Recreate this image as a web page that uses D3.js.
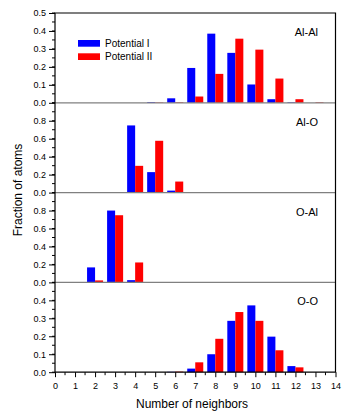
<!DOCTYPE html>
<html>
<head>
<meta charset="utf-8">
<script src="https://cdn.jsdelivr.net/npm/d3@7"></script>
<style>
  body { margin: 0; background: #fff; }
  text { font-family: "Liberation Sans", Arial, sans-serif; fill: #000; }
</style>
</head>
<body>
<div id="chart"></div>
<script>
// number of neighbors 0..14
let neighbors = d3.range(0, 15);
let panelNames = ["Al-Al", "Al-O", "O-Al", "O-O"];
let seriesNames = ["Potential I", "Potential II"];

// fraction of atoms, index = number of neighbors
let alAlPot1 = [0, 0, 0, 0, 0, 0.004, 0.025, 0.194, 0.385, 0.278, 0.102, 0.020, 0.003, 0, 0];
let alAlPot2 = [0, 0, 0, 0, 0, 0.002, 0.003, 0.035, 0.161, 0.357, 0.296, 0.135, 0.020, 0.003, 0];
let alOPot1 = [0, 0, 0, 0.005, 0.748, 0.228, 0.022, 0, 0, 0, 0, 0, 0, 0, 0];
let alOPot2 = [0, 0, 0, 0, 0.298, 0.577, 0.123, 0, 0, 0, 0, 0, 0, 0, 0];
let oAlPot1 = [0, 0.003, 0.167, 0.800, 0.025, 0.003, 0, 0, 0, 0, 0, 0, 0, 0, 0];
let oAlPot2 = [0, 0.003, 0.022, 0.748, 0.222, 0.003, 0, 0, 0, 0, 0, 0, 0, 0, 0];
let oOPot1 = [0, 0, 0, 0, 0, 0, 0.002, 0.020, 0.100, 0.286, 0.372, 0.198, 0.034, 0, 0];
let oOPot2 = [0, 0, 0, 0, 0, 0, 0.003, 0.055, 0.186, 0.335, 0.286, 0.122, 0.027, 0, 0];

// y axis setup per panel
let yMax = [0.5, 1.0, 1.0, 0.5];
let yTicks = [
    [0, 0.1, 0.2, 0.3, 0.4, 0.5],
    [0, 0.2, 0.4, 0.6, 0.8],
    [0, 0.2, 0.4, 0.6, 0.8],
    [0, 0.1, 0.2, 0.3, 0.4]
];
let yMinor = [0.05, 0.1, 0.1, 0.05];

let panelData = [
    [alAlPot1, alAlPot2],
    [alOPot1, alOPot2],
    [oAlPot1, oAlPot2],
    [oOPot1, oOPot2]
];
let colors = ["#0000ff", "#ff0000"];

//canvas and margins
let svgWidth = 345;
let svgHeight = 412;
let margin = { top: 13, left: 55, right: 10 };
let plotRight = 335.5;
let panelH = 89.8;

let svg = d3.select("#chart")
    .append("svg")
    .attr("width", svgWidth)
    .attr("height", svgHeight);

let x = d3.scaleLinear()
    .domain([0, 14])
    .range([margin.left, plotRight]);

let barW = 0.4;

panelData.forEach((series, p) => {
    let top = margin.top + p * panelH;
    let bottom = top + panelH;
    let y = d3.scaleLinear().domain([0, yMax[p]]).range([bottom, top]);

    let g = svg.append("g");

    // bars
    series.forEach((vals, s) => {
        g.selectAll(null)
            .data(neighbors.filter(n => vals[n] > 0))
            .join("rect")
            .attr("x", n => s === 0 ? x(n - barW) : x(n))
            .attr("width", x(barW) - x(0))
            .attr("y", n => y(vals[n]))
            .attr("height", n => y(0) - y(vals[n]))
            .attr("fill", colors[s]);
    });

    // minor ticks
    let minors = d3.range(0, yMax[p] + 1e-9, yMinor[p]);
    g.selectAll(null)
        .data(minors)
        .join("line")
        .attr("x1", margin.left - 3)
        .attr("x2", margin.left)
        .attr("y1", d => y(d))
        .attr("y2", d => y(d))
        .attr("stroke", "#000");

    // left axis
    let leftAxis = d3.axisLeft(y)
        .tickValues(yTicks[p])
        .tickFormat(d3.format(".1f"))
        .tickSize(6)
        .tickPadding(3);
    let ax = g.append("g")
        .attr("transform", `translate(${margin.left}, 0)`)
        .call(leftAxis);
    ax.select(".domain").remove();
    ax.selectAll("text").style("font-size", "9px").attr("font-family", "Liberation Sans, Arial, sans-serif");

    // zero line (gray panel separator)
    if (p < 3) {
        g.append("line")
            .attr("x1", margin.left)
            .attr("x2", plotRight)
            .attr("y1", y(0))
            .attr("y2", y(0))
            .attr("stroke", "#808080")
            .attr("stroke-width", 1.3);
    }

    // panel label
    g.append("text")
        .attr("x", 318)
        .attr("y", top + 23)
        .attr("text-anchor", "end")
        .style("font-size", "11px")
        .text(panelNames[p]);
});

let plotBottom = margin.top + 4 * panelH;

// bottom axis with minor ticks
let bottomAxis = d3.axisBottom(x)
    .tickValues(neighbors)
    .tickFormat(d3.format("d"))
    .tickSize(5)
    .tickPadding(5);
let bx = svg.append("g")
    .attr("transform", `translate(0, ${plotBottom})`)
    .call(bottomAxis);
bx.select(".domain").remove();
bx.selectAll("text").style("font-size", "9px").attr("font-family", "Liberation Sans, Arial, sans-serif");

svg.selectAll(null)
    .data(d3.range(0.5, 14, 1))
    .join("line")
    .attr("x1", d => x(d))
    .attr("x2", d => x(d))
    .attr("y1", plotBottom)
    .attr("y2", plotBottom + 3)
    .attr("stroke", "#000");

// frame
svg.append("path")
    .attr("d", `M${margin.left},${plotBottom}V${margin.top}H${plotRight}V${plotBottom}Z`)
    .attr("fill", "none")
    .attr("stroke", "#000")
    .attr("stroke-width", 1.2);

// legend
seriesNames.forEach((name, i) => {
    svg.append("rect")
        .attr("x", 78)
        .attr("y", 40 + i * 13.3)
        .attr("width", 22)
        .attr("height", 6.7)
        .attr("fill", colors[i]);
    svg.append("text")
        .attr("x", 105)
        .attr("y", 47 + i * 13.3)
        .style("font-size", "10px")
        .text(name);
});

// axis titles
svg.append("text")
    .attr("transform", `translate(22, 190) rotate(-90)`)
    .attr("text-anchor", "middle")
    .style("font-size", "12px")
    .text("Fraction of atoms");

svg.append("text")
    .attr("x", 192)
    .attr("y", 408)
    .attr("text-anchor", "middle")
    .style("font-size", "12px")
    .text("Number of neighbors");
</script>
</body>
</html>
